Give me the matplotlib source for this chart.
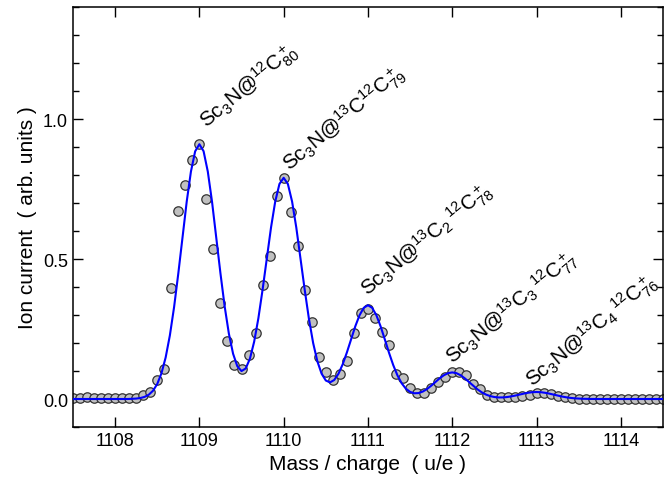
import numpy as np
import matplotlib
matplotlib.use("Agg")
from matplotlib import pyplot as plt
from matplotlib.ticker import MultipleLocator

plt.rcParams['font.family'] = ['Liberation Sans', 'DejaVu Sans']
plt.rcParams['mathtext.fontset'] = 'custom'
plt.rcParams['mathtext.rm'] = 'Liberation Sans'
plt.rcParams['mathtext.it'] = 'Liberation Sans:italic'
plt.rcParams['mathtext.default'] = 'regular'

# measured points, one every 1/12 u/e from 1107.5 to 1114.5
mass_start = 1107.5
mass_step = 1.0 / 12
ion_current = [
    0.003, 0.003, 0.006, 0.002, 0.002, 0.002, 0.003, 0.004, 0.004, 0.002,
    0.014, 0.024, 0.068, 0.107, 0.395, 0.673, 0.763, 0.853, 0.910, 0.716,
    0.536, 0.342, 0.206, 0.122, 0.108, 0.158, 0.236, 0.406, 0.512, 0.724,
    0.788, 0.668, 0.548, 0.388, 0.274, 0.150, 0.098, 0.068, 0.090, 0.137,
    0.236, 0.306, 0.320, 0.290, 0.239, 0.194, 0.090, 0.075, 0.040, 0.020,
    0.020, 0.040, 0.062, 0.078, 0.097, 0.098, 0.086, 0.052, 0.036, 0.014,
    0.008, 0.006, 0.006, 0.008, 0.012, 0.014, 0.020, 0.023, 0.018, 0.012,
    0.006, 0.002, 0.000, 0.001, 0.000, -0.001, 0.000, 0.001, 0.000, -0.001,
    0.000, 0.000, -0.001, 0.000, 0.000,
]

# fitted curve, one value every 0.05 u/e from 1107.5 to 1114.5
fit_start = 1107.5
fit_step = 0.05
fit_curve = [
    0.0, 0.0, 0.0, 0.0, 0.0, 0.0, 0.0, 0.0, 0.0, 0.0,
    0.0, 0.0, 0.0, 0.0, 0.0006, 0.0015, 0.0035, 0.0076, 0.0154, 0.0295,
    0.0534, 0.0916, 0.1483, 0.2270, 0.3280, 0.4480, 0.5782, 0.7051, 0.8124, 0.8846,
    0.910, 0.885, 0.8125, 0.7053, 0.5788, 0.4493, 0.3310, 0.2336, 0.1617, 0.1172,
    0.0998, 0.1091, 0.1442, 0.2046, 0.2882, 0.3904, 0.5026, 0.6123, 0.7053, 0.7680,
    0.790, 0.768, 0.7053, 0.6122, 0.5022, 0.3895, 0.2860, 0.1998, 0.1345, 0.0905,
    0.0661, 0.0593, 0.0680, 0.0901, 0.1237, 0.1662, 0.2135, 0.2598, 0.2991, 0.3257,
    0.335, 0.3257, 0.2991, 0.2596, 0.2130, 0.1651, 0.1211, 0.0843, 0.0562, 0.0368,
    0.0253, 0.0205, 0.0212, 0.0265, 0.0355, 0.0474, 0.0606, 0.0737, 0.0848, 0.0923,
    0.095, 0.0923, 0.0848, 0.0736, 0.0604, 0.0468, 0.0343, 0.0239, 0.0159, 0.0104,
    0.0071, 0.0056, 0.0057, 0.0070, 0.0094, 0.0124, 0.0159, 0.0194, 0.0223, 0.0243,
    0.025, 0.0243, 0.0223, 0.0194, 0.0159, 0.0123, 0.0090, 0.0062, 0.0041, 0.0025,
    0.0015, 0.0008, 0.0004, 0.0002, 0.0, 0.0, 0.0, 0.0, 0.0, 0.0,
    0.0, 0.0, 0.0, 0.0, 0.0, 0.0, 0.0, 0.0, 0.0, 0.0,
    0.0,
]

# peak labels and where they start
labels = [
    r'Sc$_3$N@$^{12}$C$^+_{80}$',
    r'Sc$_3$N@$^{13}$C$^{12}$C$^+_{79}$',
    r'Sc$_3$N@$^{13}$C$_2\,^{12}$C$^+_{78}$',
    r'Sc$_3$N@$^{13}$C$_3\,^{12}$C$^+_{77}$',
    r'Sc$_3$N@$^{13}$C$_4\,^{12}$C$^+_{76}$',
]
label_x = [1109.09, 1110.07, 1111.0, 1112.01, 1112.96]
label_y = [0.968, 0.813, 0.367, 0.125, 0.043]

mass = mass_start + mass_step * np.arange(len(ion_current))
fit_mass = fit_start + fit_step * np.arange(len(fit_curve))

fig = plt.figure(figsize=(6.69, 4.85), dpi=100)
ax = fig.add_axes([0.109, 0.1175, 0.882, 0.866])

ax.scatter(mass, ion_current, s=46, facecolor='#c0c0c0', edgecolor='#333333',
           linewidth=0.9, zorder=2)
ax.plot(fit_mass, fit_curve, color='#0000ff', lw=1.5, zorder=3)

for txt, lx, ly in zip(labels, label_x, label_y):
    ax.text(lx, ly, txt, rotation=40, rotation_mode='anchor', ha='left',
            va='baseline', fontsize=15)

ax.set_xlim(1107.5, 1114.5)
ax.set_ylim(-0.1, 1.4)
ax.xaxis.set_major_locator(MultipleLocator(1))
ax.yaxis.set_major_locator(MultipleLocator(0.5))
ax.yaxis.set_minor_locator(MultipleLocator(0.1))
ax.tick_params(which='both', direction='in', top=True, right=True, labelsize=13)
ax.tick_params(which='major', length=7, width=1)
ax.tick_params(which='minor', length=4, width=1)
for s in ax.spines.values():
    s.set_linewidth(1.1)

ax.set_xlabel('Mass / charge  ( u/e )', fontsize=15, labelpad=4)
ax.set_ylabel('Ion current  ( arb. units )', fontsize=15, labelpad=4)

fig.savefig('out.png', dpi=100)
